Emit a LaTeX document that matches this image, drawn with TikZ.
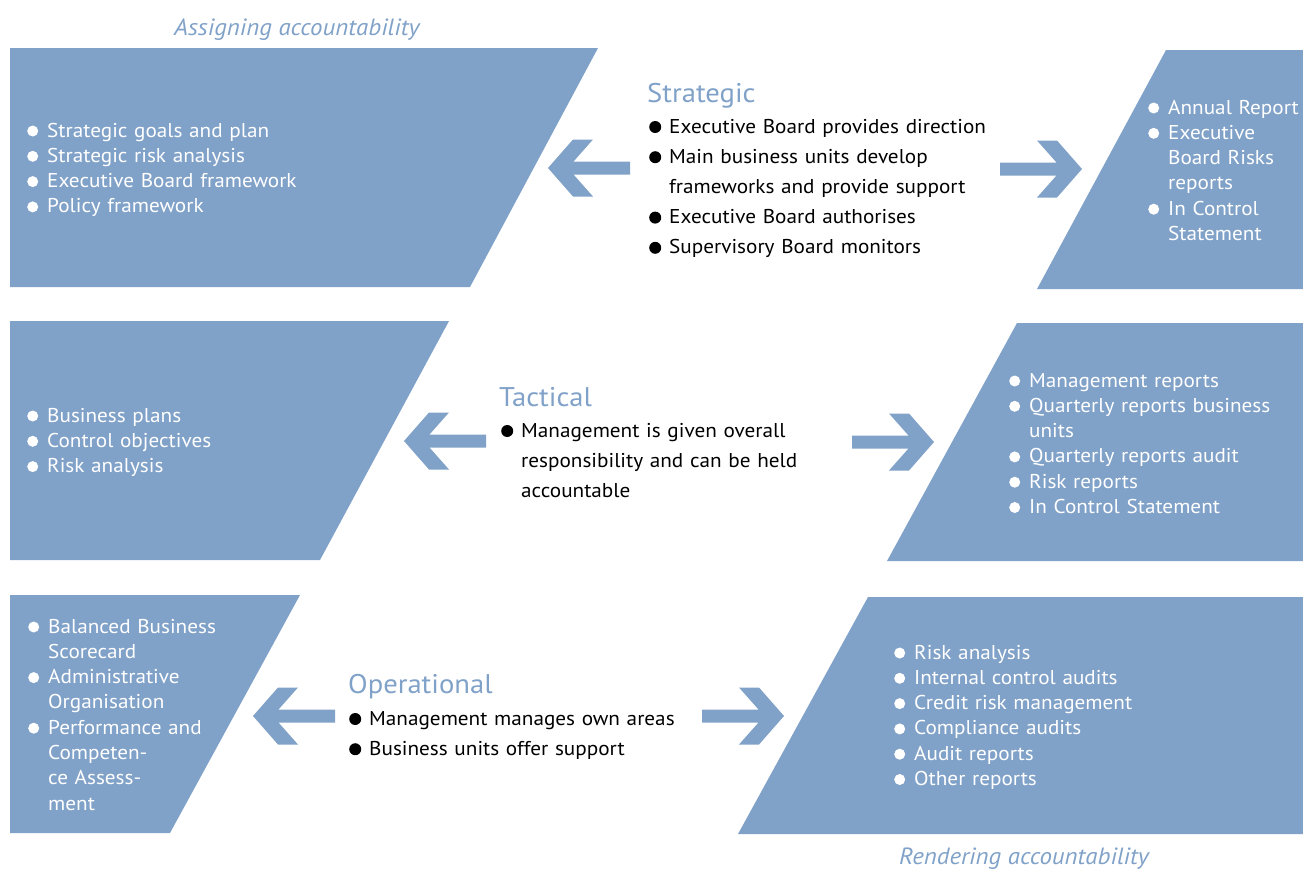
\documentclass[tikz,border=0pt]{standalone}
\usepackage{fontspec}
\setmainfont[FakeStretch=1.06]{PT Sans}
\definecolor{pb}{RGB}{128,161,200}
\newcommand\wbul{\makebox[20pt][l]{\tikz[baseline=0pt]\fill[white] (5.5pt,6pt) circle (5.5pt);}}
\newcommand\bbul{\makebox[20pt][l]{\tikz[baseline=0pt]\fill[black] (6pt,6pt) circle (6pt);}}
\newcommand\ind{\hspace*{20pt}}
\tikzset{
  boxlist/.style={anchor=base west, inner sep=0pt, text width=320pt, align=left,
    font=\fontsize{20}{25.3}\selectfont, text=white},
  midlist/.style={anchor=base west, inner sep=0pt, text width=400pt, align=left,
    font=\fontsize{20}{30.2}\selectfont, text=black},
  head/.style={anchor=base west, inner sep=0pt, font=\fontsize{27}{30}\selectfont, text=pb},
  ttl/.style={anchor=base west, inner sep=0pt, font=\fontsize{23.5}{28}\selectfont\itshape, text=pb},
  larrow/.pic={\fill[pb] (0,0) -- (25,-28.5) -- (45,-28.5) -- (25.5,-6.5) -- (82,-6.5)
     -- (82,6.5) -- (25.5,6.5) -- (45,28.5) -- (25,28.5) -- cycle;}
}
\begin{document}
\begin{tikzpicture}[x=1pt,y=-1pt]
\useasboundingbox (0,0) rectangle (1303,871);
% boxes
\fill[pb] (10,48) -- (598,48) -- (470,287) -- (10,287) -- cycle;
\fill[pb] (1166,50) -- (1303,50) -- (1303,289) -- (1037,289) -- cycle;
\fill[pb] (10,321) -- (449,321) -- (320,560) -- (10,560) -- cycle;
\fill[pb] (1017,323) -- (1303,323) -- (1303,561) -- (887,561) -- cycle;
\fill[pb] (10,595) -- (300,595) -- (170,833) -- (10,833) -- cycle;
\fill[pb] (868,597) -- (1303,597) -- (1303,834) -- (738,834) -- cycle;
% arrows
\pic at (548,168) {larrow};
\pic[xscale=-1] at (1082,169) {larrow};
\pic at (404,441) {larrow};
\pic[xscale=-1] at (934,442) {larrow};
\pic at (253,716) {larrow};
\pic[xscale=-1] at (784,716) {larrow};
% titles
\node[ttl] (t1) at (174,35) {Assigning accountability};
\node[ttl] (t2) at (899,864) {Rendering accountability};
% headings
\node[head] (h1) at (647,102) {Strategic};
\node[head] (h2) at (499,406) {Tactical};
\node[head] (h3) at (348,693) {Operational};
% middle lists
\node[midlist] (m1) at (649,133) {\bbul Executive Board provides direction\\
  \bbul Main business units develop\\ \ind frameworks and provide support\\
  \bbul Executive Board authorises\\ \bbul Supervisory Board monitors};
\node[midlist] (m2) at (501,437) {\bbul Management is given overall\\
  \ind responsibility and can be held\\ \ind accountable};
\node[midlist] (m3) at (349,725) {\bbul Management manages own areas\\
  \bbul Business units offer support};
% box lists
\node[boxlist] (b1) at (27,137) {\wbul Strategic goals and plan\\ \wbul Strategic risk analysis\\
  \wbul Executive Board framework\\ \wbul Policy framework};
\node[boxlist] (b2) at (1148,114) {\wbul Annual Report\\ \wbul Executive\\ \ind Board Risks\\
  \ind reports\\ \wbul In Control\\ \ind Statement};
\node[boxlist] (b3) at (27,422) {\wbul Business plans\\ \wbul Control objectives\\ \wbul Risk analysis};
\node[boxlist] (b4) at (1009,387) {\wbul Management reports\\ \wbul Quarterly reports business\\
  \ind units\\ \wbul Quarterly reports audit\\ \wbul Risk reports\\ \wbul In Control Statement};
\node[boxlist] (b5) at (28,633) {\wbul Balanced Business\\ \ind Scorecard\\ \wbul Administrative\\
  \ind Organisation\\ \wbul Performance and\\ \ind Competen-\\ \ind ce Assess-\\ \ind ment};
\node[boxlist] (b6) at (894,659) {\wbul Risk analysis\\ \wbul Internal control audits\\
  \wbul Credit risk management\\ \wbul Compliance audits\\ \wbul Audit reports\\ \wbul Other reports};
\end{tikzpicture}
\end{document}
